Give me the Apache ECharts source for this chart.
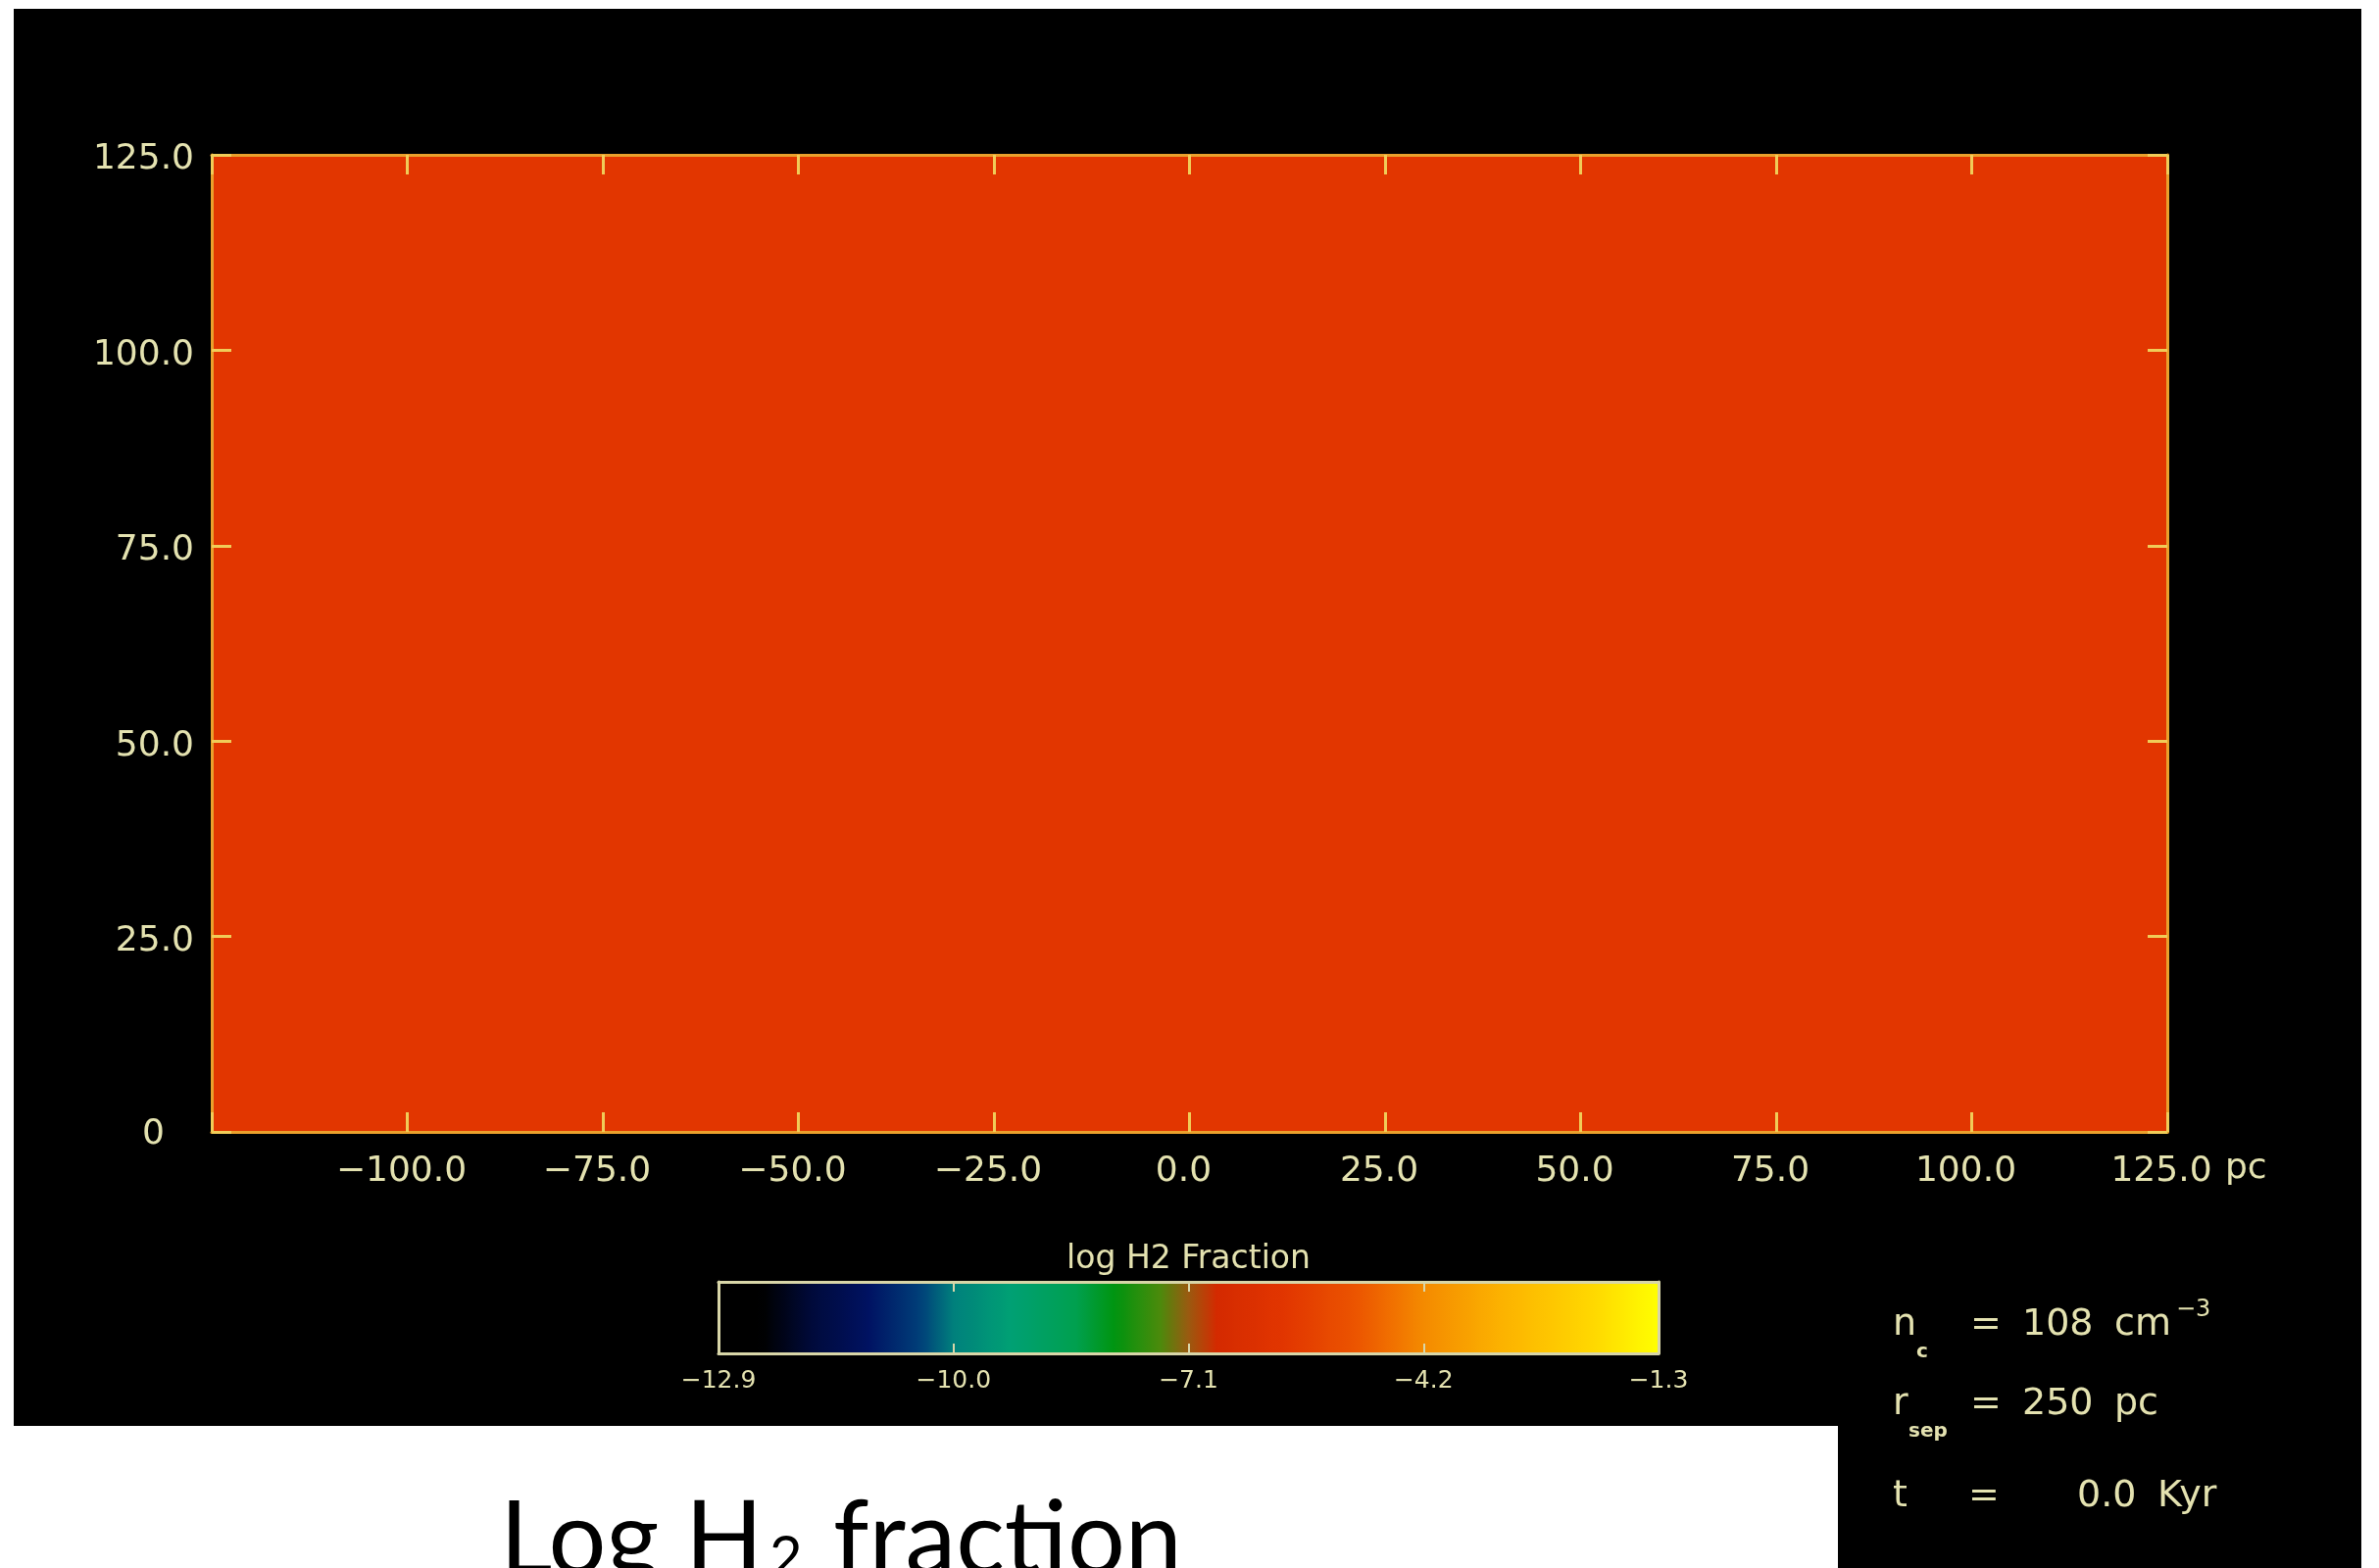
<!DOCTYPE html>
<html>
<head>
<meta charset="utf-8">
<script src="https://cdn.jsdelivr.net/npm/echarts@6/dist/echarts.min.js"></script>
<style>
  html, body { margin: 0; padding: 0; background: #fff; }
  #chart { width: 2427px; height: 1600px; }
</style>
</head>
<body>
<div id="chart"></div>
<script>
// 区域范围 (pc)
const xRange = [-125, 125]
const yRange = [0, 125]
// 轴刻度
const xTickValues = [-125, -100, -75, -50, -25, 0, 25, 50, 75, 100, 125]
const xTickLabels = ['', '−100.0', '−75.0', '−50.0', '−25.0', '0.0', '25.0', '50.0', '75.0', '100.0', '125.0']
const yTickValues = [0, 25, 50, 75, 100, 125]
const yTickLabels = ['0', '25.0', '50.0', '75.0', '100.0', '125.0']
// t = 0 时整个区域是均匀的 log H2 分数
const cellX0 = [-125]
const cellX1 = [125]
const cellY0 = [0]
const cellY1 = [125]
const logH2 = [-5.9]
// 色标
const cbarRange = [-12.9, -1.3]
const cbarTicks = [-12.9, -10.0, -7.1, -4.2, -1.3]
const cbarTickLabels = ['−12.9', '−10.0', '−7.1', '−4.2', '−1.3']
// 参数文字
const paramNames = ['n', 'r', 't']
const paramSubs = ['c', 'sep', '']
const paramValues = ['108', '250', '0.0']
const paramUnits = ['cm', 'pc', 'Kyr']

// colour table stops (value -> colour)
const ctStops = [
  [-12.9, '#000000'], [-12.35, '#000000'], [-11.75, '#000a3a'], [-11.05, '#001262'],
  [-10.4, '#00407a'], [-10.0, '#00807c'], [-9.3, '#00a074'], [-8.5, '#00a050'],
  [-8.0, '#00940e'], [-7.45, '#4c8a0c'], [-7.1, '#9a5a10'], [-6.75, '#d42a00'],
  [-5.9, '#e23600'], [-5.0, '#ec5600'], [-4.2, '#f48a00'], [-3.3, '#fcb000'],
  [-2.1, '#ffd800'], [-1.3, '#ffff00']
]

function hex2rgb(h) {
  return [parseInt(h.slice(1, 3), 16), parseInt(h.slice(3, 5), 16), parseInt(h.slice(5, 7), 16)]
}
function ctColor(v) {
  for (let i = 1; i < ctStops.length; i++) {
    if (v <= ctStops[i][0] + 1e-9) {
      const a = ctStops[i - 1], b = ctStops[i]
      const t = (v - a[0]) / (b[0] - a[0])
      const ca = hex2rgb(a[1]), cb = hex2rgb(b[1])
      const c = ca.map((x, k) => Math.round(x + (cb[k] - x) * t))
      return 'rgb(' + c.join(',') + ')'
    }
  }
  return ctStops[ctStops.length - 1][1]
}
const ctColors = []
for (let v = cbarRange[0]; v <= cbarRange[1] + 1e-6; v += 0.05) ctColors.push(ctColor(v))

const fieldData = logH2.map((v, i) => [cellX0[i], cellX1[i], cellY0[i], cellY1[i], v])

const LABEL = '#e4e2b0'
const AXIS = '#eaa02c'
const TICK = '#f0cc58'
const CBAR = '#d8d6a8'
const FONT = 'DejaVu Sans'

const pick = (vals, labels) => v => {
  const i = vals.findIndex(t => Math.abs(t - v) < 1e-6)
  return i < 0 ? '' : labels[i]
}

const mainAxisCommon = {
  type: 'value',
  gridIndex: 0,
  z: 5,
  splitLine: { show: false },
  axisLine: { show: true, onZero: false, lineStyle: { color: AXIS, width: 3 } },
  axisTick: { show: true, inside: true, length: 20, lineStyle: { color: TICK, width: 3 } }
}

const cbarAxisCommon = {
  type: 'value',
  gridIndex: 1,
  z: 10,
  splitLine: { show: false },
  axisLine: { show: true, onZero: false, lineStyle: { color: CBAR, width: 3 } }
}

// param block texts
const paramText = []
const rowY = [1352, 1433, 1527]
paramNames.forEach((n, i) => {
  const base = { fill: LABEL, fontFamily: FONT, fontSize: 38, verticalAlign: 'middle', align: 'left' }
  paramText.push({ type: 'text', z: 100, style: { ...base, text: n, x: 1931, y: rowY[i] } })
  if (paramSubs[i]) {
    paramText.push({ type: 'text', z: 100, style: { ...base, fontSize: 20, fontWeight: 'bold', text: paramSubs[i], x: i === 0 ? 1955 : 1947, y: rowY[i] + 28 } })
  }
  paramText.push({ type: 'text', z: 100, style: { ...base, text: '=', x: i === 2 ? 2008 : 2010, y: rowY[i] } })
  paramText.push({ type: 'text', z: 100, style: { ...base, text: paramValues[i], x: i === 2 ? 2119 : 2063, y: rowY[i] } })
  paramText.push({ type: 'text', z: 100, style: { ...base, text: paramUnits[i], x: i === 2 ? 2201 : 2157, y: rowY[i] } })
})
paramText.push({ type: 'text', z: 100, style: { fill: LABEL, fontFamily: FONT, fontSize: 24, text: '−3', x: 2220, y: 1337, verticalAlign: 'middle' } })

const chart = echarts.init(document.getElementById('chart'))

const option = {
  backgroundColor: '#ffffff',
  animation: false,
  graphic: [
    { type: 'rect', z: -10, shape: { x: 14, y: 9, width: 2395, height: 1446 }, style: { fill: '#000' } },
    { type: 'rect', z: -10, shape: { x: 1875, y: 1440, width: 534, height: 160 }, style: { fill: '#000' } },
    { type: 'text', z: 100, style: { text: 'Log H', x: 510, y: 1572, fill: '#000', fontFamily: 'Lato', fontSize: 104, verticalAlign: 'middle' } },
    { type: 'text', z: 100, style: { text: '2', x: 785, y: 1590, fill: '#000', fontFamily: 'Lato', fontSize: 58, verticalAlign: 'middle' } },
    { type: 'text', z: 100, style: { text: 'fraction', x: 850, y: 1572, fill: '#000', fontFamily: 'Lato', fontSize: 104, verticalAlign: 'middle' } },
    // x 轴单位
    { type: 'text', z: 100, style: { text: 'pc', x: 2270, y: 1193, fill: LABEL, fontFamily: FONT, fontSize: 36, verticalAlign: 'middle' } },
    ...paramText
  ],
  grid: [
    { left: 216, top: 158, width: 1995, height: 997 },
    { left: 733, top: 1308, width: 959, height: 73 }
  ],
  xAxis: [
    {
      ...mainAxisCommon,
      position: 'bottom',
      min: xRange[0], max: xRange[1], interval: 25,
      axisLabel: { formatter: pick(xTickValues, xTickLabels), color: LABEL, fontFamily: FONT, fontSize: 36, margin: 23, padding: [0, 12, 0, 0] }
    },
    {
      ...mainAxisCommon,
      position: 'top',
      min: xRange[0], max: xRange[1], interval: 25,
      axisLabel: { show: false }
    },
    {
      ...cbarAxisCommon,
      position: 'bottom',
      min: cbarRange[0], max: cbarRange[1],
      axisTick: { show: true, inside: true, length: 10, customValues: cbarTicks.slice(1, -1), lineStyle: { color: CBAR, width: 2 } },
      axisLabel: { customValues: cbarTicks, formatter: pick(cbarTicks, cbarTickLabels), color: LABEL, fontFamily: FONT, fontSize: 25, margin: 16 }
    },
    {
      ...cbarAxisCommon,
      position: 'top',
      min: cbarRange[0], max: cbarRange[1],
      axisTick: { show: true, inside: true, length: 10, customValues: cbarTicks.slice(1, -1), lineStyle: { color: CBAR, width: 2 } },
      axisLabel: { show: false },
      name: 'log H2 Fraction',
      nameLocation: 'middle',
      nameGap: 6,
      nameTextStyle: { color: LABEL, fontFamily: FONT, fontSize: 33 }
    }
  ],
  yAxis: [
    {
      ...mainAxisCommon,
      position: 'left',
      min: yRange[0], max: yRange[1], interval: 25,
      axisLabel: {
        formatter: v => v === 0 ? '{z|0}' : '{n|' + pick(yTickValues, yTickLabels)(v) + '}',
        color: LABEL, fontFamily: FONT, fontSize: 36, margin: 18,
        rich: {
          n: { color: LABEL, fontFamily: FONT, fontSize: 36, padding: [10, 0, 0, 0] },
          z: { color: LABEL, fontFamily: FONT, fontSize: 36, padding: [6, 30, 0, 0] }
        }
      }
    },
    {
      ...mainAxisCommon,
      position: 'right',
      min: yRange[0], max: yRange[1], interval: 25,
      axisLabel: { show: false }
    },
    { ...cbarAxisCommon, position: 'left', min: 0, max: 1, axisTick: { show: false }, axisLabel: { show: false } },
    { ...cbarAxisCommon, position: 'right', min: 0, max: 1, axisTick: { show: false }, axisLabel: { show: false } }
  ],
  visualMap: {
    type: 'continuous',
    seriesIndex: 0,
    dimension: 4,
    min: cbarRange[0],
    max: cbarRange[1],
    orient: 'horizontal',
    left: 733,
    top: 1308,
    itemWidth: 73,
    itemHeight: 959,
    padding: 0,
    calculable: false,
    hoverLink: false,
    text: null,
    inRange: { color: ctColors }
  },
  series: [
    {
      type: 'custom',
      name: 'log H2 Fraction',
      xAxisIndex: 0,
      yAxisIndex: 0,
      data: fieldData,
      encode: { x: [0, 1], y: [2, 3] },
      renderItem: (params, api) => {
        const p0 = api.coord([api.value(0), api.value(3)])
        const p1 = api.coord([api.value(1), api.value(2)])
        return {
          type: 'rect',
          shape: { x: p0[0], y: p0[1], width: p1[0] - p0[0], height: p1[1] - p0[1] },
          style: { fill: api.visual('color') }
        }
      }
    }
  ]
}

chart.setOption(option)
</script>
</body>
</html>
